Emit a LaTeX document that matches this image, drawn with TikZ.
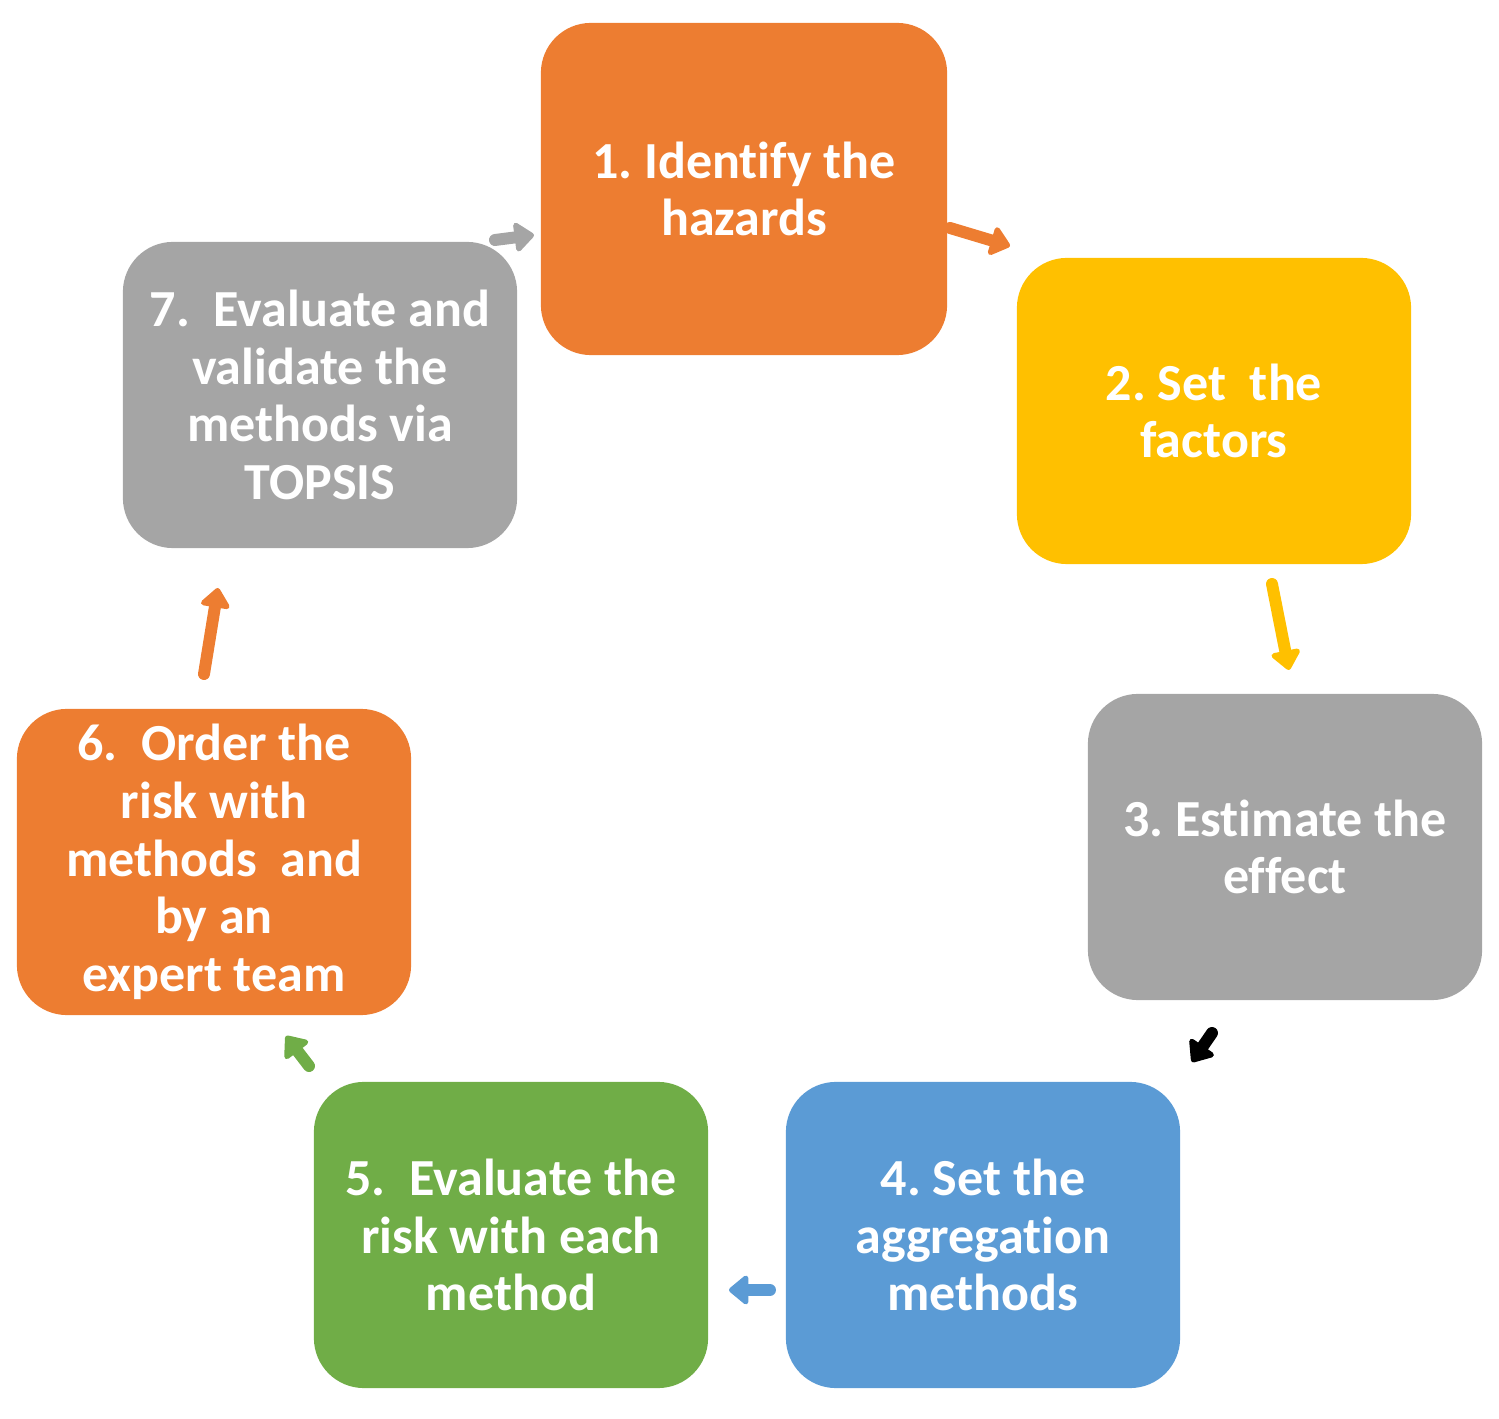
\documentclass[tikz,border=0pt]{standalone}
\usepackage{fontspec}
\setmainfont[Ligatures=NoCommon]{Carlito}
\usepackage{tikz}
\usetikzlibrary{arrows.meta}

\definecolor{orng}{HTML}{ED7D31}
\definecolor{yllw}{HTML}{FFC000}
\definecolor{gry}{HTML}{A5A5A5}
\definecolor{blu}{HTML}{5B9BD5}
\definecolor{grn}{HTML}{70AD47}

\begin{document}
\begin{tikzpicture}[x=0.01cm, y=-0.01cm,
		box/.style={rounded corners=0.5cm, minimum width=3.94cm, minimum height=3.06cm, inner sep=0pt, text=white, align=center, font=\fontsize{14.8}{16.4}\selectfont\bfseries},
		flow/.style={line width=3.4pt, line cap=round, line join=round, -{Triangle[round, length=6pt, width=9.5pt]}}]
			\useasboundingbox (0,0) rectangle (1499,1419);

			\coordinate (s12) at (950,228);
			\coordinate (e12) at (1010,246);
			\coordinate (s23) at (1272,584);
			\coordinate (e23) at (1289,670);
			\coordinate (s34) at (1212,1033);
			\coordinate (e34) at (1192,1062);
			\coordinate (s45) at (770,1290);
			\coordinate (e45) at (729,1290);
			\coordinate (s56) at (309,1066);
			\coordinate (e56) at (286,1036);
			\coordinate (s67) at (204,674);
			\coordinate (e67) at (218,588);
			\coordinate (s71) at (495,240);
			\coordinate (e71) at (534,235);

			\draw [flow, color=gry] (s71) -- (e71);

			\node [box, fill=orng, minimum width=4.06cm, minimum height=3.32cm] (b1) at (744,189) {1.~Identify the\\hazards};
			\node [box, fill=yllw] (b2) at (1214,411) {2.~Set\ \ the\\factors};
			\node [box, fill=gry] (b3) at (1285,847) {3.~Estimate the\\effect};
			\node [box, fill=blu] (b4) at (983,1235) {4.~Set the\\aggregation\\methods};
			\node [box, fill=grn] (b5) at (511,1235) {5.\ \ Evaluate the\\risk with each\\method};
			\node [box, fill=orng] (b6) at (214,862) {6.\ \ Order the\\risk with\\methods\ \ and\\by an\\expert team};
			\node [box, fill=gry] (b7) at (320,395) {7.\ \ Evaluate and\\validate the\\methods via\\TOPSIS};

			\draw [flow, color=orng] (s12) -- (e12);
			\draw [flow, color=yllw] (s23) -- (e23);
			\draw [flow, color=black] (s34) -- (e34);
			\draw [flow, color=blu] (s45) -- (e45);
			\draw [flow, color=grn] (s56) -- (e56);
			\draw [flow, color=orng] (s67) -- (e67);

		\end{tikzpicture}
\end{document}
